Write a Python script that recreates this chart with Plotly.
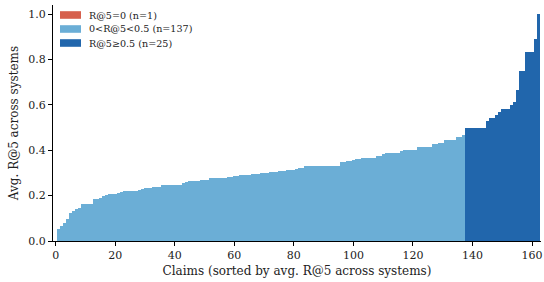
import plotly.graph_objects as go

# Average R@5 per claim (sorted ascending)
zero_vals = [0.0]  # claim 0
mid_vals = (
    [0.053, 0.066, 0.079, 0.097, 0.123, 0.132, 0.141, 0.145]
    + [0.163] * 4
    + [0.185] * 2
    + [0.189, 0.198, 0.203, 0.207, 0.207, 0.207, 0.211, 0.216]
    + [0.220] * 5
    + [0.225, 0.229]
    + [0.233] * 3
    + [0.238] * 3
    + [0.247] * 7
    + [0.256, 0.260]
    + [0.264] * 4
    + [0.269] * 3
    + [0.278] * 6
    + [0.282] * 2
    + [0.286] * 2
    + [0.291] * 4
    + [0.295] * 3
    + [0.300] * 3
    + [0.304] * 3
    + [0.308] * 3
    + [0.313] * 3
    + [0.317]
    + [0.322] * 2
    + [0.330] * 12
    + [0.348] * 2
    + [0.352] * 2
    + [0.357]
    + [0.361] * 2
    + [0.365] * 5
    + [0.374] * 2
    + [0.383]
    + [0.388] * 5
    + [0.396]
    + [0.401] * 5
    + [0.414] * 5
    + [0.427] * 2
    + [0.432] * 2
    + [0.445] * 4
    + [0.458] * 2
    + [0.467]
)
high_vals = (
    [0.500] * 7
    + [0.529, 0.542, 0.542, 0.555, 0.568]
    + [0.583] * 3
    + [0.600, 0.611, 0.667, 0.750, 0.750]
    + [0.833] * 3
    + [0.889, 1.000]
)

labels = [
    "R@5=0 (n=%d)" % len(zero_vals),
    "0<R@5<0.5 (n=%d)" % len(mid_vals),
    "R@5≥0.5 (n=%d)" % len(high_vals),
]
colors = ["#d6604d", "#6baed6", "#2166ac"]

x_tick_vals = [0, 20, 40, 60, 80, 100, 120, 140, 160]
y_tick_vals = [0.0, 0.2, 0.4, 0.6, 0.8, 1.0]

x_zero = list(range(0, len(zero_vals)))
x_mid = list(range(len(zero_vals), len(zero_vals) + len(mid_vals)))
x_high = list(range(len(zero_vals) + len(mid_vals),
                    len(zero_vals) + len(mid_vals) + len(high_vals)))

FONT = "DejaVu Serif"
W, H = 544, 282
ML, MR, MT, MB = 53, 3, 5, 41

fig = go.Figure()
for xs, ys, lab, col in [(x_zero, zero_vals, labels[0], colors[0]),
                         (x_mid, mid_vals, labels[1], colors[1]),
                         (x_high, high_vals, labels[2], colors[2])]:
    fig.add_trace(go.Bar(x=xs, y=ys, name=lab, width=1.0, showlegend=False,
                         marker=dict(color=col, line=dict(width=0))))

# Legend drawn as swatches + text (matplotlib-style compact legend)
pw, ph = W - ML - MR, H - MT - MB
def px_to_paper(px, py):
    return (px - ML) / pw, 1 - (py - MT) / ph

shapes, annos = [], []
for i, (lab, col) in enumerate(zip(labels, colors)):
    cy = 15 + 14 * i
    x0, y0 = px_to_paper(60, cy - 3.8)
    x1, y1 = px_to_paper(81, cy + 3.8)
    shapes.append(dict(type="rect", xref="paper", yref="paper",
                       x0=x0, x1=x1, y0=y1, y1=y0,
                       fillcolor=col, line=dict(width=0)))
    tx, ty = px_to_paper(87, cy)
    annos.append(dict(xref="paper", yref="paper", x=tx, y=ty, text=lab,
                      showarrow=False, xanchor="left", yanchor="middle",
                      font=dict(family=FONT, size=9.6, color="#222")))

fig.update_layout(
    width=W, height=H,
    margin=dict(l=ML, r=MR, t=MT, b=MB),
    paper_bgcolor="white", plot_bgcolor="white",
    barmode="overlay", bargap=0,
    font=dict(family=FONT, size=11, color="#222"),
    showlegend=False,
    shapes=shapes, annotations=annos,
)
fig.update_xaxes(
    range=[-0.9, 163], tickvals=x_tick_vals, showgrid=False, zeroline=False,
    showline=True, linecolor="black", linewidth=1,
    ticks="outside", ticklen=4, tickcolor="black", automargin=False,
    tickfont=dict(family=FONT, size=11),
    title=dict(text="Claims (sorted by avg. R@5 across systems)",
               font=dict(family=FONT, size=12), standoff=5),
)
fig.update_yaxes(
    range=[0, 1.04], tickvals=y_tick_vals, tickformat=".1f",
    showgrid=False, zeroline=False,
    showline=True, linecolor="black", linewidth=1,
    ticks="outside", ticklen=4, tickcolor="black", automargin=False,
    tickfont=dict(family=FONT, size=11),
    title=dict(text="Avg. R@5 across systems",
               font=dict(family=FONT, size=12), standoff=7),
)
fig.write_html("out.html", config={"displayModeBar": False},
               post_script="document.body.style.margin='0';document.body.style.padding='0';")
